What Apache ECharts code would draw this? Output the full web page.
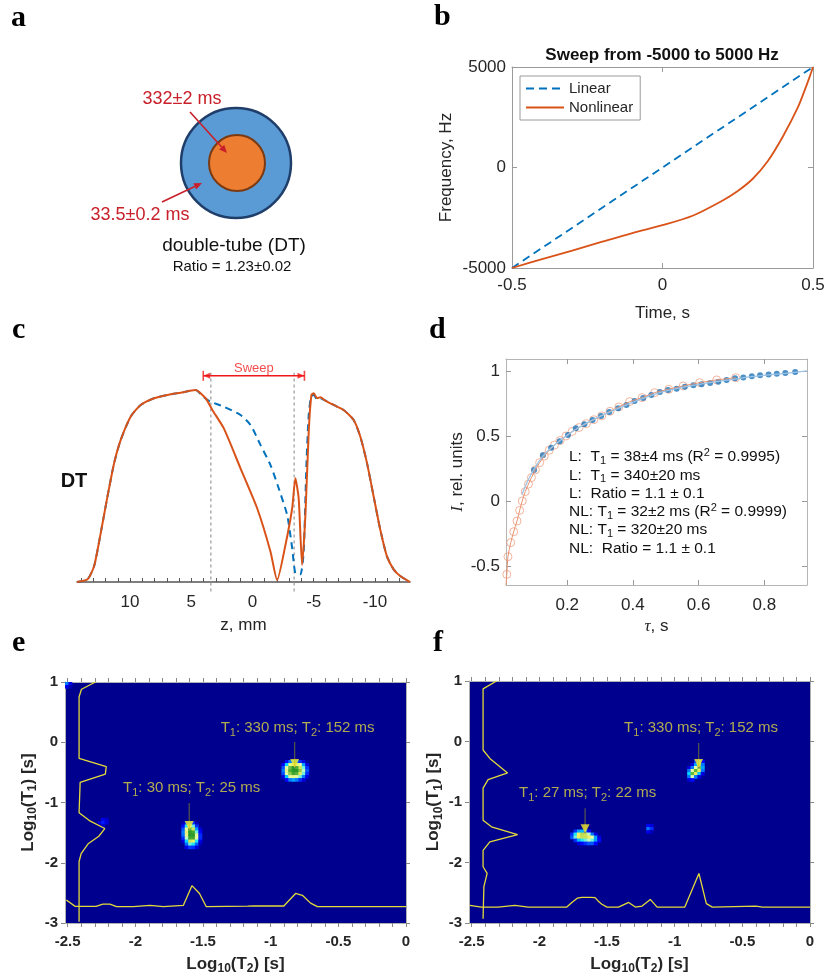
<!DOCTYPE html>
<html>
<head>
<meta charset="utf-8">
<title>Figure</title>
<script src="https://cdn.jsdelivr.net/npm/echarts@6.0.0/dist/echarts.min.js"></script>
<style>
html,body{margin:0;padding:0;background:#ffffff;}
#chart{width:825px;height:975px;}
</style>
</head>
<body>
<div id="chart"></div>
<script>
// ======================= DATA =======================
// Panel b : frequency sweeps
const bLinearTime = [-0.5, 0.5];
const bLinearFreq = [-5000, 5000];
const bNonlinearTime = [-0.5, -0.4, -0.3, -0.2, -0.1, 0, 0.1, 0.2, 0.25, 0.3, 0.35, 0.4, 0.45, 0.475, 0.49, 0.5];
const bNonlinearFreq = [-5000, -4560, -4130, -3690, -3260, -2870, -2400, -1640, -1170, -560, 320, 1540, 3000, 3950, 4560, 5000];
const bTicksX = [-0.5, 0, 0.5];
const bTicksY = [-5000, 0, 5000];
const bLegendNames = ['Linear', 'Nonlinear'];

// Panel c : profiles along z
const cOrangeZ = [14.33, 13.47, 12.93, 12.39, 11.84, 11.30, 10.76, 9.94, 9.13, 8.04, 6.95, 5.87, 4.65, 3.83, 3.28, 2.34, 0.98, -0.38, -1.47, -2.01, -2.69, -3.24, -3.50, -3.77, -4.05, -4.32, -4.59, -4.81, -5.00, -5.27, -5.54, -5.95, -6.63, -7.44, -8.26, -8.80, -9.35, -9.89, -10.43, -10.97, -11.52, -12.06, -12.86];
const cOrangeV = [0, 0.014, 0.083, 0.256, 0.446, 0.619, 0.740, 0.862, 0.922, 0.957, 0.974, 0.986, 1.0, 0.957, 0.896, 0.80, 0.592, 0.384, 0.158, 0.01, 0.193, 0.384, 0.54, 0.436, 0.089, 0.349, 0.783, 0.974, 0.983, 0.957, 0.962, 0.945, 0.922, 0.896, 0.844, 0.758, 0.619, 0.446, 0.273, 0.135, 0.066, 0.031, 0];
const cBlueZ = [14.33, 13.47, 12.93, 12.39, 11.84, 11.30, 10.76, 9.94, 9.13, 8.04, 6.95, 5.87, 4.65, 3.97, 3.42, 2.34, 0.98, 0.16, -0.65, -1.47, -2.14, -2.83, -3.24, -3.50, -3.91, -4.18, -4.40, -4.59, -4.78, -5.00, -5.27, -5.54, -5.95, -6.63, -7.44, -8.26, -8.80, -9.35, -9.89, -10.43, -10.97, -11.52, -12.06, -12.86];
const cBlueV = [0, 0.014, 0.083, 0.256, 0.446, 0.619, 0.740, 0.862, 0.922, 0.957, 0.974, 0.986, 1.0, 0.962, 0.939, 0.913, 0.87, 0.818, 0.714, 0.609, 0.488, 0.349, 0.176, 0.045, 0.04, 0.158, 0.609, 0.87, 0.965, 0.975, 0.95, 0.957, 0.945, 0.922, 0.896, 0.844, 0.758, 0.619, 0.446, 0.273, 0.135, 0.066, 0.031, 0];
const cSliceEdgesZ = [3.4, -3.4];
const cSweepZ = [4.02, -4.24];
const cTickLabels = [10, 5, 0, -5, -10];
const cMinorTicks = [-12, -11, -10, -9, -8, -7, -6, -5, -4, -3, -2, -1, 0, 1, 2, 3, 4, 5, 6, 7, 8, 9, 10, 11, 12, 13, 14];

// Panel d : inversion recovery
const dTauL = [0.099, 0.126, 0.151, 0.177, 0.202, 0.226, 0.252, 0.277, 0.303, 0.328, 0.355, 0.380, 0.405, 0.431, 0.456, 0.482, 0.507, 0.533, 0.558, 0.584, 0.609, 0.635, 0.660, 0.685, 0.711, 0.736, 0.762, 0.787, 0.813, 0.838, 0.864, 0.894];
const dIL = [0.238, 0.351, 0.41, 0.46, 0.508, 0.559, 0.59, 0.623, 0.654, 0.685, 0.713, 0.738, 0.769, 0.792, 0.815, 0.838, 0.854, 0.864, 0.879, 0.89, 0.897, 0.908, 0.918, 0.931, 0.944, 0.949, 0.959, 0.967, 0.972, 0.979, 0.985, 0.992];
const dFitLTau = [0.062, 0.08, 0.099, 0.126, 0.151, 0.202, 0.252, 0.303, 0.355, 0.405, 0.456, 0.507, 0.558, 0.609, 0.660, 0.711, 0.762, 0.813, 0.864, 0.93];
const dFitLI = [0.05, 0.155, 0.245, 0.345, 0.41, 0.51, 0.59, 0.655, 0.713, 0.765, 0.812, 0.85, 0.878, 0.9, 0.92, 0.938, 0.956, 0.97, 0.982, 1.0];
const dTauNL = [0.016, 0.0195, 0.028, 0.037, 0.047, 0.055, 0.063, 0.072, 0.082, 0.091, 0.103, 0.116, 0.130, 0.145, 0.161, 0.178, 0.196, 0.215, 0.236, 0.258, 0.281, 0.305, 0.330, 0.357, 0.390, 0.428, 0.466, 0.509, 0.553, 0.603, 0.655, 0.713];
const dINL = [-0.564, -0.428, -0.32, -0.236, -0.154, -0.072, 0.0, 0.072, 0.13, 0.18, 0.24, 0.295, 0.345, 0.39, 0.43, 0.465, 0.50, 0.535, 0.565, 0.595, 0.625, 0.655, 0.69, 0.723, 0.764, 0.795, 0.833, 0.859, 0.885, 0.91, 0.931, 0.948];
const dFitNLStart = [0.0135, -0.646];
const dTicksX = [0.2, 0.4, 0.6, 0.8];
const dTicksY = [-0.5, 0, 0.5, 1];

// Panels e / f : T1-T2 maps (cell amplitudes, rows top -> bottom)
const eSpot330 = [
  [0, 0.15, 0.3, 0.35, 0.3, 0.2, 0.1, 0],
  [0.15, 0.42, 0.65, 0.72, 0.7, 0.6, 0.35, 0.1],
  [0.25, 0.6, 0.85, 1.0, 0.92, 0.75, 0.5, 0.2],
  [0.3, 0.65, 0.92, 1.0, 1.0, 0.82, 0.55, 0.25],
  [0.25, 0.6, 0.82, 0.95, 0.9, 0.72, 0.5, 0.2],
  [0.1, 0.4, 0.6, 0.65, 0.6, 0.5, 0.3, 0.1],
  [0, 0.15, 0.3, 0.35, 0.3, 0.2, 0.1, 0]
];
const eSpot330Center = [-0.82, -0.47];
const eSpot30 = [
  [0.05, 0.2, 0.3, 0.2, 0.05, 0],
  [0.15, 0.45, 0.62, 0.5, 0.2, 0],
  [0.25, 0.62, 0.88, 0.75, 0.35, 0.1],
  [0.3, 0.68, 1.0, 0.95, 0.5, 0.15],
  [0.28, 0.65, 1.0, 1.0, 0.62, 0.2],
  [0.2, 0.55, 0.95, 0.95, 0.6, 0.2],
  [0.1, 0.42, 0.75, 0.72, 0.45, 0.12],
  [0, 0.28, 0.5, 0.45, 0.28, 0.05],
  [0, 0.12, 0.22, 0.2, 0.1, 0]
];
const eSpot30Center = [-1.585, -1.54];
const eSpotWeak = [[0, 0.12, 0.08], [0.1, 0.18, 0.1], [0, 0.08, 0]];
const eSpotWeakCenter = [-2.24, -1.33];
const eSpotCorner = [[0.3, 0.12], [0.12, 0.04]];
const eSpotCornerCenter = [-2.495, 0.95];

const fSpot330 = [
  [0, 0, 0.2, 0.45, 0.15],
  [0, 0.1, 0.35, 0.75, 0.3],
  [0.1, 0.3, 0.6, 0.82, 0.35],
  [0.3, 0.62, 0.9, 0.72, 0.3],
  [0.42, 0.88, 0.72, 0.4, 0.1],
  [0.3, 0.58, 0.3, 0.1, 0],
  [0.1, 0.15, 0, 0, 0]
];
const fSpot330Center = [-0.845, -0.48];
const fSpot27 = [
  [0, 0.2, 0.35, 0.38, 0.3, 0.15, 0, 0, 0],
  [0.2, 0.45, 0.7, 0.78, 0.75, 0.55, 0.3, 0.1, 0],
  [0.25, 0.5, 0.72, 0.76, 0.76, 0.72, 0.6, 0.35, 0.1],
  [0, 0.2, 0.38, 0.45, 0.5, 0.55, 0.5, 0.35, 0.15],
  [0, 0, 0.1, 0.15, 0.2, 0.25, 0.25, 0.15, 0]
];
const fSpot27Center = [-1.66, -1.58];
const fSpotWeak = [[0.15, 0.1], [0.3, 0.2], [0.12, 0.05]];
const fSpotWeakCenter = [-1.185, -1.44];

const eProfileT1 = [[-2.295, 1.0], [-2.398, 0.879], [-2.416, 0.756], [-2.416, -0.267], [-2.215, -0.405], [-2.222, -0.53], [-2.408, -0.665], [-2.416, -1.17], [-2.34, -1.30], [-2.226, -1.432], [-2.27, -1.56], [-2.349, -1.686], [-2.401, -1.85], [-2.416, -1.98], [-2.416, -2.98]];
const eProfileT2 = [[-2.51, -2.618], [-2.445, -2.724], [-2.29, -2.724], [-2.24, -2.688], [-2.188, -2.688], [-2.139, -2.729], [-2.016, -2.729], [-1.892, -2.707], [-1.793, -2.729], [-1.645, -2.707], [-1.582, -2.38], [-1.526, -2.51], [-1.476, -2.729], [-1.17, -2.72], [-1.125, -2.718], [-0.903, -2.718], [-0.816, -2.51], [-0.766, -2.54], [-0.705, -2.67], [-0.655, -2.729], [0, -2.729]];
const fProfileT1 = [[-2.317, 1.0], [-2.416, 0.87], [-2.416, -0.14], [-2.366, -0.28], [-2.235, -0.52], [-2.379, -0.63], [-2.416, -0.77], [-2.416, -1.30], [-2.354, -1.41], [-2.161, -1.54], [-2.366, -1.66], [-2.416, -1.80], [-2.416, -2.07], [-2.386, -2.18], [-2.41, -2.40], [-2.416, -2.93]];
const fProfileT2 = [[-2.515, -2.71], [-2.428, -2.737], [-2.305, -2.737], [-2.181, -2.71], [-2.082, -2.737], [-1.797, -2.737], [-1.76, -2.66], [-1.72, -2.59], [-1.686, -2.575], [-1.62, -2.575], [-1.588, -2.58], [-1.56, -2.65], [-1.538, -2.69], [-1.5, -2.737], [-1.415, -2.737], [-1.34, -2.66], [-1.291, -2.737], [-1.241, -2.72], [-1.18, -2.61], [-1.13, -2.737], [-0.925, -2.737], [-0.821, -2.18], [-0.766, -2.68], [-0.722, -2.737], [-0.40, -2.72], [-0.35, -2.737], [0, -2.737]];

// arrows: [logT2, yStart, yEnd]; notes: [logT2, logT1, T1 ms, T2 ms]
const eArrows = [[-0.823, 0.004, -0.427], [-1.602, -1.008, -1.456]];
const eNotes = [[-0.801, 0.236, 330, 152], [-1.584, -0.759, 30, 25]];
const fArrows = [[-0.823, -0.026, -0.44], [-1.662, -1.103, -1.517]];
const fNotes = [[-0.805, 0.222, 330, 152], [-1.643, -0.854, 27, 22]];
const mapTickLabelsX = [-2.5, -2, -1.5, -1, -0.5, 0];
const mapTickLabelsY = [-3, -2, -1, 0, 1];

// ======================= HELPERS =======================
const FONT = '"Liberation Sans", Arial, Helvetica, sans-serif';
const SERIF = '"Liberation Serif", "Times New Roman", serif';
const TXT = '#262626';
const FRAME = '#9a9a9a';
const BLUE = '#0072BD';
const ORANGE = '#D95319';
const YEL = '#E2DA3A';
const CELL_DX = 0.025, CELL_DY = 0.05;
const zip = (a, b) => a.map((v, i) => [v, b[i]]);

const mapMinorTicksX = [];
for (let k = -25; k <= 0; k++) mapMinorTicksX.push(k / 10);

function heatCells(matrix, center) {
  const nr = matrix.length, nc = matrix[0].length, out = [];
  for (let r = 0; r < nr; r++) {
    for (let c = 0; c < nc; c++) {
      const v = matrix[r][c];
      if (v > 0) out.push([center[0] + (c - (nc - 1) / 2) * CELL_DX, center[1] + ((nr - 1) / 2 - r) * CELL_DY, v]);
    }
  }
  return out;
}

function mkAxis(gi, min, max, o) {
  o = o || {};
  const a = {
    type: 'value', gridIndex: gi, min: min, max: max,
    inverse: !!o.inverse,
    show: o.show !== false,
    axisLine: { show: true, onZero: false, lineStyle: { color: o.lineColor || FRAME, width: o.lineWidth || 1 } },
    axisTick: { show: o.ticks !== false, inside: o.tickInside !== false, length: o.tickLen || 5,
      lineStyle: { color: o.tickColor || o.lineColor || FRAME, width: 1 } },
    axisLabel: { show: !!o.labels, color: TXT, fontFamily: FONT, fontSize: o.fontSize || 17,
      fontWeight: o.bold ? 'bold' : 'normal', margin: o.margin || 8, formatter: v => String(v) },
    splitLine: { show: false },
    name: o.name || '', nameLocation: 'middle', nameGap: o.nameGap || 30,
    nameTextStyle: o.nameStyle || {}
  };
  if (o.position) a.position = o.position;
  if (o.interval != null) a.interval = o.interval;
  if (o.ticksAt) a.axisTick.customValues = o.ticksAt;
  if (o.labelsAt) a.axisLabel.customValues = o.labelsAt;
  return a;
}

const subRich = (size, bold) => ({
  t: { fontSize: size, fontFamily: FONT, fontWeight: bold ? 'bold' : 'normal', color: TXT, lineHeight: size + 5, verticalAlign: 'middle' },
  s: { fontSize: Math.round(size * 0.7), fontFamily: FONT, fontWeight: bold ? 'bold' : 'normal', color: TXT, lineHeight: Math.round(size * 0.7), verticalAlign: 'bottom' }
});

// ======================= AXES =======================
const grids = [
  { left: 512, top: 67, width: 301, height: 201 },
  { left: 77, top: 390, width: 333, height: 192 },
  { left: 506, top: 359, width: 301, height: 226 },
  { left: 65, top: 682, width: 341, height: 241, show: true, backgroundColor: '#00008F', borderWidth: 0 },
  { left: 469, top: 681, width: 341, height: 242, show: true, backgroundColor: '#00008F', borderWidth: 0 }
].map(g => Object.assign({ containLabel: false, outerBoundsMode: 'none' }, g));

const xAxes = [
  mkAxis(0, -0.5, 0.5, { labels: true, ticksAt: bTicksX, labelsAt: bTicksX, margin: 9, name: 'Time, s', nameGap: 37, nameStyle: { fontSize: 17, color: TXT, fontFamily: FONT } }),
  mkAxis(0, -0.5, 0.5, { position: 'top', ticksAt: bTicksX }),
  mkAxis(1, -12.86, 14.33, { inverse: true, labels: true, ticksAt: cMinorTicks, labelsAt: cTickLabels, lineColor: '#555', lineWidth: 1.5, tickLen: 4, margin: 12, name: 'z, mm', nameGap: 35, nameStyle: { fontSize: 17, color: TXT, fontFamily: FONT } }),
  mkAxis(2, 0.0135, 0.93, { labels: true, ticksAt: dTicksX, labelsAt: dTicksX, lineColor: '#b5b5b5', tickColor: '#999', margin: 12,
    name: '{i|τ}{n|, s}', nameGap: 33, nameStyle: { rich: { i: { fontSize: 17, fontStyle: 'italic', fontFamily: SERIF, color: TXT }, n: { fontSize: 17, fontFamily: FONT, color: TXT } } } }),
  mkAxis(2, 0.0135, 0.93, { position: 'top', ticksAt: dTicksX, lineColor: '#b5b5b5', tickColor: '#999' }),
  mkAxis(3, -2.52, 0, { labels: true, bold: true, fontSize: 15, ticksAt: mapMinorTicksX, labelsAt: mapTickLabelsX, tickInside: false, tickLen: 4, lineColor: '#b0b0b0', tickColor: '#888', margin: 11,
    name: '{t|Log}{s|10}{t|(T}{s|2}{t|) [s]}', nameGap: 30, nameStyle: { rich: subRich(17, true) } }),
  mkAxis(3, -2.52, 0, { position: 'top', ticksAt: mapMinorTicksX, tickInside: false, tickLen: 4, lineColor: '#b0b0b0', tickColor: '#888' }),
  mkAxis(4, -2.52, 0, { labels: true, bold: true, fontSize: 15, ticksAt: mapMinorTicksX, labelsAt: mapTickLabelsX, tickInside: false, tickLen: 4, lineColor: '#b0b0b0', tickColor: '#888', margin: 11,
    name: '{t|Log}{s|10}{t|(T}{s|2}{t|) [s]}', nameGap: 30, nameStyle: { rich: subRich(17, true) } }),
  mkAxis(4, -2.52, 0, { position: 'top', ticksAt: mapMinorTicksX, tickInside: false, tickLen: 4, lineColor: '#b0b0b0', tickColor: '#888' })
];

const yAxes = [
  mkAxis(0, -5000, 5000, { labels: true, ticksAt: bTicksY, labelsAt: bTicksY, margin: 6, name: 'Frequency, Hz', nameGap: 57, nameStyle: { fontSize: 17, color: TXT, fontFamily: FONT } }),
  mkAxis(0, -5000, 5000, { position: 'right', ticksAt: bTicksY }),
  mkAxis(1, 0, 1, { show: false }),
  mkAxis(2, -0.646, 1.092, { labels: true, ticksAt: dTicksY, labelsAt: dTicksY, lineColor: '#b5b5b5', tickColor: '#999', margin: 6,
    name: '{i|I}{n|, rel. units}', nameGap: 40, nameStyle: { rich: { i: { fontSize: 17, fontStyle: 'italic', fontFamily: SERIF, color: TXT }, n: { fontSize: 17, fontFamily: FONT, color: TXT } } } }),
  mkAxis(2, -0.646, 1.092, { position: 'right', ticksAt: dTicksY, lineColor: '#b5b5b5', tickColor: '#999' }),
  mkAxis(3, -3, 1, { labels: true, bold: true, fontSize: 15, ticksAt: mapTickLabelsY, labelsAt: mapTickLabelsY, tickInside: false, tickLen: 4, lineColor: '#b0b0b0', tickColor: '#888', margin: 7,
    name: '{t|Log}{s|10}{t|(T}{s|1}{t|) [s]}', nameGap: 26, nameStyle: { rich: subRich(17, true) } }),
  mkAxis(3, -3, 1, { position: 'right', ticksAt: mapTickLabelsY, tickInside: false, tickLen: 4, lineColor: '#b0b0b0', tickColor: '#888' }),
  mkAxis(4, -3, 1, { labels: true, bold: true, fontSize: 15, ticksAt: mapTickLabelsY, labelsAt: mapTickLabelsY, tickInside: false, tickLen: 4, lineColor: '#b0b0b0', tickColor: '#888', margin: 7,
    name: '{t|Log}{s|10}{t|(T}{s|1}{t|) [s]}', nameGap: 24, nameStyle: { rich: subRich(17, true) } }),
  mkAxis(4, -3, 1, { position: 'right', ticksAt: mapTickLabelsY, tickInside: false, tickLen: 4, lineColor: '#b0b0b0', tickColor: '#888' })
];

// ======================= SERIES =======================
const series = [];
const add = s => { series.push(Object.assign({ animation: false, silent: true }, s)); return series.length - 1; };

// b
add({ name: 'Linear', type: 'line', xAxisIndex: 0, yAxisIndex: 0, data: zip(bLinearTime, bLinearFreq), symbol: 'none',
  lineStyle: { color: BLUE, width: 1.8, type: [8, 5] }, itemStyle: { color: BLUE } });
add({ name: 'Nonlinear', type: 'line', xAxisIndex: 0, yAxisIndex: 0, data: zip(bNonlinearTime, bNonlinearFreq), symbol: 'none', smooth: 0.3,
  lineStyle: { color: ORANGE, width: 1.8 }, itemStyle: { color: ORANGE } });

// c
add({ type: 'line', xAxisIndex: 2, yAxisIndex: 2, data: zip(cBlueZ, cBlueV), symbol: 'none', smooth: 0.2,
  lineStyle: { color: BLUE, width: 2, type: [7, 5] } });
add({ type: 'line', xAxisIndex: 2, yAxisIndex: 2, data: zip(cOrangeZ, cOrangeV), symbol: 'none', smooth: 0.2,
  lineStyle: { color: ORANGE, width: 2 } });
cSliceEdgesZ.forEach(z => add({ type: 'line', xAxisIndex: 2, yAxisIndex: 2, clip: false, symbol: 'none', z: 1,
  data: [[z, -0.05], [z, 1.09]], lineStyle: { color: '#9a9a9a', width: 1.2, type: [3, 3] } }));
add({ type: 'line', xAxisIndex: 2, yAxisIndex: 2, clip: false, symbol: 'none',
  data: [[cSweepZ[0], 1.074], [cSweepZ[1], 1.074]], lineStyle: { color: '#F01818', width: 1.5 } });
add({ type: 'scatter', xAxisIndex: 2, yAxisIndex: 2, clip: false, symbol: 'rect', symbolSize: [1.6, 10],
  data: [[cSweepZ[0], 1.074], [cSweepZ[1], 1.074]], itemStyle: { color: '#F01818' } });
add({ type: 'scatter', xAxisIndex: 2, yAxisIndex: 2, clip: false, symbol: 'triangle', symbolSize: [6, 7],
  data: [{ value: [cSweepZ[0] - 0.28, 1.074], symbolRotate: 90 }, { value: [cSweepZ[1] + 0.28, 1.074], symbolRotate: -90 }],
  itemStyle: { color: '#F01818' } });
add({ type: 'scatter', xAxisIndex: 2, yAxisIndex: 2, clip: false, symbolSize: 0,
  data: [[(cSweepZ[0] + cSweepZ[1]) / 2, 1.074]],
  label: { show: true, position: 'top', distance: 1, formatter: 'Sweep', color: '#F02020', fontSize: 13, fontFamily: FONT } });

// d
add({ type: 'line', xAxisIndex: 3, yAxisIndex: 3, data: [dFitNLStart].concat(zip(dTauNL, dINL)), symbol: 'none', smooth: 0.3,
  lineStyle: { color: '#E9916F', width: 1 } });
add({ type: 'scatter', xAxisIndex: 3, yAxisIndex: 3, data: zip(dTauNL, dINL), clip: false, symbol: 'circle', symbolSize: 8,
  itemStyle: { color: 'rgba(0,0,0,0)', borderColor: '#F0A184', borderWidth: 1 } });
add({ type: 'line', xAxisIndex: 3, yAxisIndex: 3, data: zip(dFitLTau, dFitLI), symbol: 'none', smooth: 0.3,
  lineStyle: { color: '#9CC3E4', width: 1.3 } });
add({ type: 'scatter', xAxisIndex: 3, yAxisIndex: 3, data: zip(dTauL, dIL), clip: false, symbol: 'circle', symbolSize: 6,
  itemStyle: { color: '#1F74B8' } });

// e / f maps
function renderCell(params, api) {
  const x = api.value(0), y = api.value(1);
  const p1 = api.coord([x - CELL_DX / 2, y + CELL_DY / 2]);
  const p2 = api.coord([x + CELL_DX / 2, y - CELL_DY / 2]);
  return { type: 'rect', shape: { x: p1[0], y: p1[1], width: p2[0] - p1[0] + 0.6, height: p2[1] - p1[1] + 0.6 },
    style: { fill: api.visual('color') } };
}
const noteRich = {
  t: { fontSize: 15, fontFamily: FONT, color: '#DCD440', lineHeight: 20, verticalAlign: 'middle' },
  s: { fontSize: 11, fontFamily: FONT, color: '#DCD440', lineHeight: 11, verticalAlign: 'bottom' }
};
const mapIdx = [];
function mapPanel(xi, yi, cells, prof1, prof2, arrows, notes) {
  mapIdx.push(add({ type: 'custom', xAxisIndex: xi, yAxisIndex: yi, clip: true, renderItem: renderCell,
    dimensions: ['logT2', 'logT1', 'amp'], encode: { x: 0, y: 1 }, data: cells, z: 1 }));
  [prof1, prof2].forEach(p => add({ type: 'line', xAxisIndex: xi, yAxisIndex: yi, data: p, symbol: 'none', z: 3,
    lineStyle: { color: YEL, width: 1.3 } }));
  arrows.forEach(a => add({ type: 'line', xAxisIndex: xi, yAxisIndex: yi, data: [[a[0], a[1]], [a[0], a[2]]], symbol: 'none', z: 4,
    lineStyle: { color: '#505050', width: 1.3 } }));
  add({ type: 'scatter', xAxisIndex: xi, yAxisIndex: yi, symbol: 'triangle', symbolRotate: 180, symbolSize: [9, 9], z: 5,
    data: arrows.map(a => [a[0], a[2] + 0.075]), itemStyle: { color: '#F4EE2C' } });
  add({ type: 'scatter', xAxisIndex: xi, yAxisIndex: yi, symbolSize: 0, z: 5, data: notes,
    encode: { x: 0, y: 1 }, dimensions: ['x', 'y', 't1', 't2'],
    label: { show: true, position: 'inside',
      formatter: p => '{t|T}{s|1}{t|: ' + p.value[2] + ' ms; T}{s|2}{t|: ' + p.value[3] + ' ms}', rich: noteRich } });
}
mapPanel(5, 5,
  heatCells(eSpot330, eSpot330Center).concat(heatCells(eSpot30, eSpot30Center), heatCells(eSpotWeak, eSpotWeakCenter), heatCells(eSpotCorner, eSpotCornerCenter)),
  eProfileT1, eProfileT2, eArrows, eNotes);
mapPanel(7, 7,
  heatCells(fSpot330, fSpot330Center).concat(heatCells(fSpot27, fSpot27Center), heatCells(fSpotWeak, fSpotWeakCenter)),
  fProfileT1, fProfileT2, fArrows, fNotes);

// ======================= GRAPHICS (panel a, letters, texts) =======================
function txt(text, x, y, font, fill, align, vAlign, rich) {
  const st = { text: text, x: x, y: y, font: font, fill: fill || '#000', align: align || 'left', textAlign: align || 'left',
    verticalAlign: vAlign || 'middle', textVerticalAlign: vAlign || 'middle' };
  if (rich) st.rich = rich;
  return { type: 'text', silent: true, style: st, z: 100 };
}
function arrowEls(x1, y1, x2, y2, color, w, hl, hw) {
  const dx = x2 - x1, dy = y2 - y1, L = Math.hypot(dx, dy), ux = dx / L, uy = dy / L;
  const bx = x2 - ux * hl, by = y2 - uy * hl;
  return [
    { type: 'line', silent: true, z: 100, shape: { x1: x1, y1: y1, x2: bx, y2: by }, style: { stroke: color, lineWidth: w } },
    { type: 'polygon', silent: true, z: 100, shape: { points: [[x2, y2], [bx - uy * hw, by + ux * hw], [bx + uy * hw, by - ux * hw]] }, style: { fill: color } }
  ];
}
const letterFont = 'bold 30px ' + SERIF;
const dRich = {
  s: { fontSize: 11, fontFamily: FONT, color: '#111', lineHeight: 11, verticalAlign: 'bottom' },
  p: { fontSize: 11, fontFamily: FONT, color: '#111', lineHeight: 11, verticalAlign: 'top' },
  n: { fontSize: 15.5, fontFamily: FONT, color: '#111', lineHeight: 19, verticalAlign: 'middle' }
};
const dLines = [
  '{n|L:  T}{s|1}{n| = 38±4 ms (R}{p|2}{n| = 0.9995)}',
  '{n|L:  T}{s|1}{n| = 340±20 ms}',
  '{n|L:  Ratio = 1.1 ± 0.1}',
  '{n|NL: T}{s|1}{n| = 32±2 ms (R}{p|2}{n| = 0.9999)}',
  '{n|NL: T}{s|1}{n| = 320±20 ms}',
  '{n|NL:  Ratio = 1.1 ± 0.1}'
];
const graphics = [
  txt('a', 11, 18, letterFont), txt('b', 434, 17, letterFont), txt('c', 12, 330, letterFont),
  txt('d', 429, 330, letterFont), txt('e', 12, 643, letterFont), txt('f', 433, 643, letterFont),
  { type: 'circle', silent: true, z: 90, shape: { cx: 236, cy: 163, r: 55 }, style: { fill: '#5B9BD5', stroke: '#1F3E6A', lineWidth: 2.5 } },
  { type: 'circle', silent: true, z: 91, shape: { cx: 237, cy: 163, r: 28 }, style: { fill: '#ED7D31', stroke: '#7A3A12', lineWidth: 2 } },
  txt('332±2 ms', 182, 99, '18px ' + FONT, '#C8202A', 'center'),
  txt('33.5±0.2 ms', 140, 215, '18px ' + FONT, '#C8202A', 'center'),
  txt('double-tube (DT)', 234, 246, '19px ' + FONT, '#111', 'center'),
  txt('Ratio = 1.23±0.02', 232, 267, '15px ' + FONT, '#111', 'center'),
  txt('Sweep from -5000 to 5000 Hz', 662, 55, 'bold 17px ' + FONT, '#111', 'center'),
  txt('DT', 74, 481, 'bold 20px ' + FONT, '#111', 'center')
].concat(arrowEls(190, 112, 227, 153, '#C8202A', 1.6, 8, 3.5), arrowEls(162, 202, 202, 183, '#C8202A', 1.6, 8, 3.5));
dLines.forEach((l, i) => graphics.push(txt(l, 569, 457 + i * 18.3, '15.5px ' + FONT, '#111', 'left', 'middle', dRich)));

// ======================= OPTION =======================
const option = {
  backgroundColor: '#ffffff',
  animation: false,
  textStyle: { fontFamily: FONT },
  grid: grids,
  xAxis: xAxes,
  yAxis: yAxes,
  legend: [{
    data: bLegendNames, orient: 'vertical', left: 520, top: 76, itemWidth: 38, itemHeight: 12, itemGap: 4,
    padding: [5, 7, 5, 5], borderColor: '#9a9a9a', borderWidth: 1, backgroundColor: '#fff', selectedMode: false,
    itemStyle: { opacity: 0 },
    textStyle: { fontSize: 15, color: TXT, fontFamily: FONT }
  }],
  visualMap: [{
    type: 'continuous', show: false, seriesIndex: mapIdx, dimension: 2, min: 0, max: 1,
    inRange: { color: ['#00008F', '#0000FF', '#0070FF', '#00E0FF', '#E0FFB8', '#F0F060', '#6CC040', '#2A9A2A'] }
  }],
  series: series,
  graphic: { elements: graphics }
};

const chart = echarts.init(document.getElementById('chart'), null, { renderer: 'canvas', width: 825, height: 975 });
chart.setOption(option);
</script>
</body>
</html>
